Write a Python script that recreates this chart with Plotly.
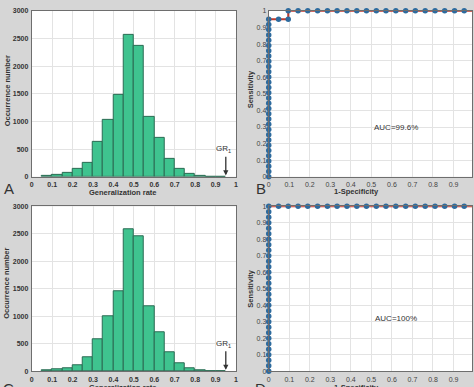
import plotly.graph_objects as go

W, H = 474, 387

# ---------------- data ----------------
bin_left = [0.05, 0.10, 0.15, 0.20, 0.25, 0.30, 0.35, 0.40, 0.45, 0.50,
            0.55, 0.60, 0.65, 0.70, 0.75, 0.80, 0.85, 0.90]
bin_width = 0.05
counts_A = [12, 30, 70, 135, 260, 635, 1030, 1475, 2570, 2365,
            1090, 710, 330, 148, 50, 22, 8, 3]
counts_C = [12, 28, 60, 102, 262, 580, 995, 1450, 2580, 2455,
            1175, 705, 352, 137, 48, 18, 6, 2]
gr_x = 0.95

fpr_B = [0, 0, 0, 0, 0, 0, 0, 0, 0, 0, 0, 0, 0, 0, 0, 0, 0, 0, 0, 0, 0, 0,
         0, 0, 0, 0, 0, 0, 0, 0, 0,
         0.048, 0.095, 0.095, 0.143, 0.190, 0.238, 0.286, 0.333, 0.381, 0.429,
         0.476, 0.524, 0.571, 0.619, 0.667, 0.714, 0.762, 0.810, 0.857, 0.905,
         0.952, 1.0]
tpr_B = [0, 0.032, 0.063, 0.095, 0.127, 0.158, 0.190, 0.222, 0.253, 0.285,
         0.317, 0.348, 0.380, 0.412, 0.443, 0.475, 0.507, 0.538, 0.570, 0.602,
         0.633, 0.665, 0.697, 0.728, 0.760, 0.792, 0.823, 0.855, 0.887, 0.918,
         0.95,
         0.95, 0.95, 1, 1, 1, 1, 1, 1, 1, 1,
         1, 1, 1, 1, 1, 1, 1, 1, 1, 1,
         1, 1]
fpr_D = [0, 0, 0, 0, 0, 0, 0, 0, 0, 0, 0, 0, 0, 0, 0, 0, 0, 0, 0, 0, 0,
         0, 0, 0, 0, 0, 0, 0, 0, 0, 0,
         0.048, 0.095, 0.143, 0.190, 0.238, 0.286, 0.333, 0.381, 0.429,
         0.476, 0.524, 0.571, 0.619, 0.667, 0.714, 0.762, 0.810, 0.857, 0.905,
         0.952, 1.0]
tpr_D = [0, 0.033, 0.067, 0.1, 0.133, 0.167, 0.2, 0.233, 0.267, 0.3,
         0.333, 0.367, 0.4, 0.433, 0.467, 0.5, 0.533, 0.567, 0.6, 0.633,
         0.667, 0.7, 0.733, 0.767, 0.8, 0.833, 0.867, 0.9, 0.933, 0.967, 1,
         1, 1, 1, 1, 1, 1, 1, 1, 1,
         1, 1, 1, 1, 1, 1, 1, 1, 1, 1,
         1, 1]
auc_B = "AUC=99.6%"
auc_D = "AUC=100%"

hist_ticks_x = [0, 0.1, 0.2, 0.3, 0.4, 0.5, 0.6, 0.7, 0.8, 0.9, 1]
hist_ticks_y = [0, 500, 1000, 1500, 2000, 2500, 3000]
roc_ticks = [0, 0.1, 0.2, 0.3, 0.4, 0.5, 0.6, 0.7, 0.8, 0.9, 1]

# ---------------- styling helpers ----------------
BG = "#d6d6d6"
BAR = "#3fc38f"
BAR_EDGE = "#2b6b53"
GRID = "#e3e3e3"
AXIS = "#6e6e6e"
MARK = "#2e6b9e"
LINE = "#c0392b"
FONT = "Liberation Sans"


def px_x(p):
    return p / W


def px_y(p):
    return 1 - p / H


fig = go.Figure()

# histograms
for counts, xa, ya in [(counts_A, "x", "y"), (counts_C, "x3", "y3")]:
    fig.add_trace(go.Bar(x=bin_left, y=counts, width=bin_width, offset=0,
                         marker=dict(color=BAR, line=dict(color=BAR_EDGE, width=1)),
                         xaxis=xa, yaxis=ya, showlegend=False))

# ROC curves
for fx, ty, xa, ya in [(fpr_B, tpr_B, "x2", "y2"), (fpr_D, tpr_D, "x4", "y4")]:
    fig.add_trace(go.Scatter(x=fx, y=ty, mode="lines", line=dict(color=LINE, width=2),
                             xaxis=xa, yaxis=ya, showlegend=False, cliponaxis=False))
    fig.add_trace(go.Scatter(x=fx, y=ty, mode="markers",
                             marker=dict(color=MARK, size=5.5, line=dict(width=0)),
                             xaxis=xa, yaxis=ya, showlegend=False, cliponaxis=False))

hx = [px_x(30), px_x(236)]
bx = [px_x(269), 1.0]
top_y = [px_y(176), px_y(7)]
bot_y = [px_y(374), px_y(206)]

hist_tick_font = dict(family=FONT, size=7, color="#333333", weight="bold")
roc_tick_font = dict(family=FONT, size=7, color="#444444")

common = dict(showgrid=True, gridcolor=GRID, gridwidth=1, zeroline=False,
              showline=True, linecolor=AXIS, linewidth=1, mirror=True,
              ticks="", fixedrange=True)

layout = dict(
    width=W, height=H, margin=dict(l=0, r=0, t=0, b=0),
    paper_bgcolor=BG, plot_bgcolor="white", bargap=0,
    xaxis=dict(domain=hx, anchor="y", range=[0, 1], tickvals=hist_ticks_x,
               tickfont=hist_tick_font, ticklabelstandoff=1, **common),
    yaxis=dict(domain=top_y, anchor="x", range=[0, 3000], tickvals=hist_ticks_y,
               tickfont=hist_tick_font, ticklabelstandoff=1, **common),
    xaxis3=dict(domain=hx, anchor="y3", range=[0, 1], tickvals=hist_ticks_x,
                tickfont=hist_tick_font, ticklabelstandoff=1, **common),
    yaxis3=dict(domain=bot_y, anchor="x3", range=[0, 3000], tickvals=hist_ticks_y,
                tickfont=hist_tick_font, ticklabelstandoff=1, **common),
    xaxis2=dict(domain=bx, anchor="y2", range=[0, 0.99], tickvals=roc_ticks,
                tickfont=roc_tick_font, ticklabelstandoff=1, **common),
    yaxis2=dict(domain=top_y, anchor="x2", range=[0, 1], tickvals=roc_ticks,
                tickfont=roc_tick_font, ticklabelstandoff=0, **common),
    xaxis4=dict(domain=bx, anchor="y4", range=[0, 0.99], tickvals=roc_ticks,
                tickfont=roc_tick_font, ticklabelstandoff=1, **common),
    yaxis4=dict(domain=bot_y, anchor="x4", range=[0, 1], tickvals=roc_ticks,
                tickfont=roc_tick_font, ticklabelstandoff=0, **common),
)
fig.update_layout(**layout)

ann = []
title_font = dict(family=FONT, size=7.5, color="#333333", weight="bold")
# axis titles
for txt, x, y, ang in [
    ("Generalization rate", 122, 192, 0),
    ("Generalization rate", 122, 391, 0),
    ("1-Specificity", 358, 191, 0),
    ("1-Specificity", 358, 391, 0),
    ("Occurrence number", 5, 88, -90),
    ("Occurrence number", 5, 284, -90),
    ("Sensitivity", 251, 87, -90),
    ("Sensitivity", 251, 290, -90),
]:
    ann.append(dict(text=txt, x=px_x(x), y=px_y(y), xref="paper", yref="paper",
                    showarrow=False, textangle=ang, font=title_font,
                    xanchor="center", yanchor="middle"))
# panel letters
for txt, x, y in [("A", 7, 188), ("B", 261, 188), ("C", 7, 392), ("D", 261, 392)]:
    ann.append(dict(text=txt, x=px_x(x), y=px_y(y), xref="paper", yref="paper",
                    showarrow=False, font=dict(family=FONT, size=15, color="#333333"),
                    xanchor="center", yanchor="middle"))
# GR arrows
for xa, ya in [("x", "y"), ("x3", "y3")]:
    ann.append(dict(x=gr_x, y=25, ax=gr_x, ay=390, xref=xa, yref=ya,
                    axref=xa, ayref=ya, showarrow=True, arrowhead=2,
                    arrowsize=0.8, arrowwidth=1.3, arrowcolor="#333333", text=""))
    ann.append(dict(x=gr_x - 0.01, y=500, xref=xa, yref=ya, showarrow=False,
                    text="GR<sub>1</sub>",
                    font=dict(family=FONT, size=8, color="#333333")))
# AUC text
ann.append(dict(x=0.62, y=0.30, xref="x2", yref="y2", showarrow=False, text=auc_B,
                font=dict(family=FONT, size=8, color="#333333")))
ann.append(dict(x=0.62, y=0.32, xref="x4", yref="y4", showarrow=False, text=auc_D,
                font=dict(family=FONT, size=8, color="#333333")))
fig.update_layout(annotations=ann)

fig.write_html("out.html")
